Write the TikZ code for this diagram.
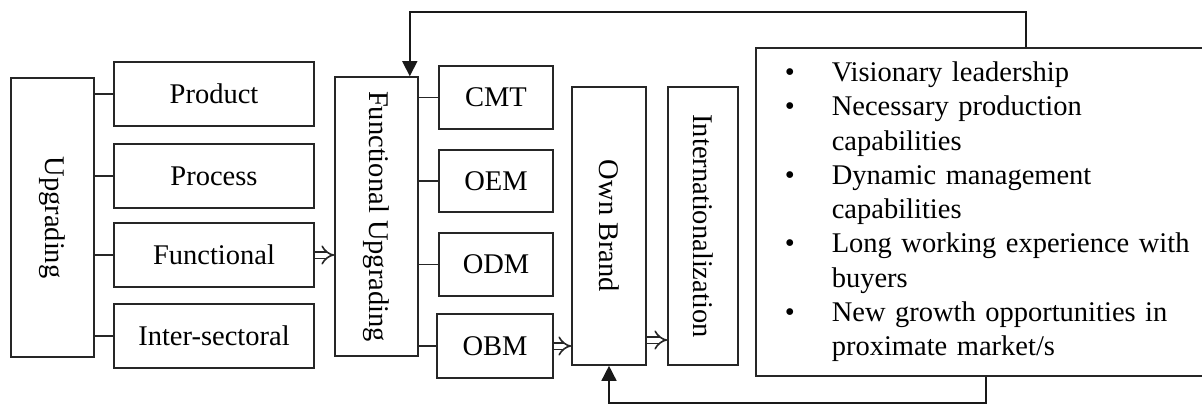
\documentclass[tikz,border=0pt]{standalone}
\usepackage{fontspec}
\setmainfont{Liberation Serif}
\usepackage{graphicx}
\usetikzlibrary{arrows.meta}

\tikzset{
  box/.style = {draw=black!85, line width=1.6pt, inner sep=0pt, font=\fontsize{28.5}{34.3}\selectfont},
  link/.style = {draw=black!85, line width=1.8pt},
  dbl/.style = {draw=black!85, line width=1.6pt, double, double distance=5pt, -{Implies[scale=1.4]}},
  fb/.style = {draw=black!90, line width=1.5pt, -{Triangle[width=15pt,length=15pt]}}
}

\begin{document}
\begin{tikzpicture}[x=1pt, y=-1pt]
  \path[use as bounding box, clip] (0,0) rectangle (1202,405);
  % upgrading types
  \node[box, minimum width=83pt, minimum height=279pt] (up) at(52.5,217.5){\rotatebox{-90}{Upgrading}};
  \node[box, minimum width=200pt, minimum height=64pt] (prod) at(214,94){Product};
  \node[box, minimum width=200pt, minimum height=64pt] (proc) at(214,176){Process};
  \node[box, minimum width=200pt, minimum height=64pt] (func) at(214,255){Functional};
  \node[box, minimum width=200pt, minimum height=64pt] (inter) at(214,336){Inter-sectoral};
  % functional upgrading
  \node[box, minimum width=83pt, minimum height=279pt] (fu) at(376.5,216.5){\rotatebox{-90}{Functional Upgrading}};
  \node[box, minimum width=114pt, minimum height=63pt] (cmt) at(496,97.5){CMT};
  \node[box, minimum width=114pt, minimum height=62pt] (oem) at(496,181){OEM};
  \node[box, minimum width=114pt, minimum height=63pt] (odm) at(496,264.5){ODM};
  \node[box, minimum width=116pt, minimum height=64pt] (obm) at(495,346){OBM};
  % brand
  \node[box, minimum width=74pt, minimum height=278pt] (own) at(609,226){\rotatebox{-90}{Own Brand}};
  \node[box, minimum width=70pt, minimum height=278pt] (intl) at(703,226){\rotatebox{-90}{Internationalization}};
  % drivers
  \node[box, anchor=north west, minimum height=328pt, text width=522pt, inner xsep=29pt] (drv) at(755,47){%
    \begin{tabular}{@{}p{47pt}@{}l@{}}
      \textbullet & Visionary leadership\\
      \textbullet & Necessary production\\
                  & capabilities\\
      \textbullet & Dynamic management\\
                  & capabilities\\
      \textbullet & Long working experience with\\
                  & buyers\\
      \textbullet & New growth opportunities in\\
                  & proximate market/s
    \end{tabular}};
  \draw[link] (up.east |- prod.west) -- (prod.west);
  \draw[link] (up.east |- proc.west) -- (proc.west);
  \draw[link] (up.east |- func.west) -- (func.west);
  \draw[link] (up.east |- inter.west) -- (inter.west);
  \draw[link] (fu.east |- cmt.west) -- (cmt.west);
  \draw[link] (fu.east |- oem.west) -- (oem.west);
  \draw[link] (fu.east |- odm.west) -- (odm.west);
  \draw[link] (fu.east |- obm.west) -- (obm.west);
  \draw[dbl] (func.east) -- (func.east -| fu.west);
  \draw[dbl] (obm.east) -- (obm.east -| own.west);
  \draw[dbl] ([yshift=6pt]own.east |- obm.east) -- ([yshift=6pt]intl.west |- obm.east);
  % feedback loops
  \coordinate (topturn) at(1026,12);
  \coordinate (botturn) at(986,403);
  \draw[fb] (drv.north -| topturn) -- (topturn) -| ([xshift=-9pt]fu.north east);
  \draw[fb] (drv.south -| botturn) -- (botturn) -| (own.south);
\end{tikzpicture}
\end{document}
